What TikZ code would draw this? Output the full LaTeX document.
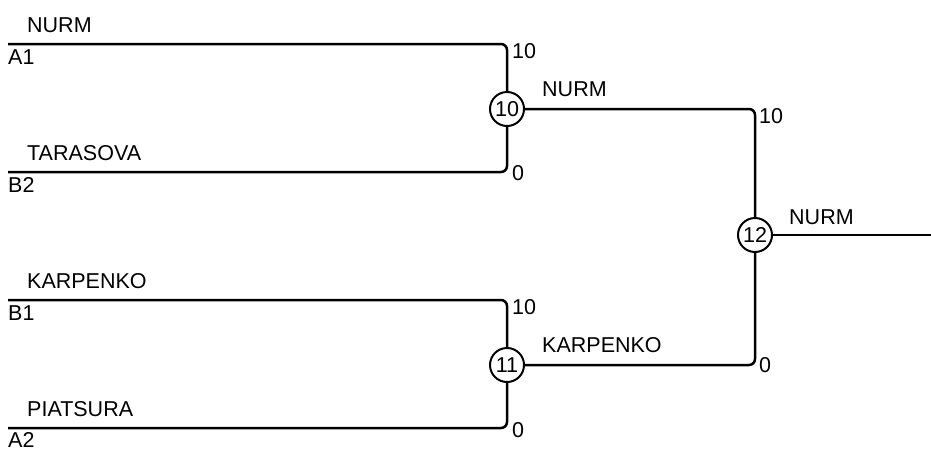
\documentclass[tikz,border=0pt]{standalone}
\usepackage{fontspec}
\setmainfont{Liberation Sans}
\begin{document}
\begin{tikzpicture}[x=1pt,y=-1pt,
  every node/.style={inner sep=0pt,font=\fontsize{21.5}{25}\selectfont},
  txt/.style={anchor=base west},
  game/.style={circle,draw,line width=2pt,minimum size=34pt,fill=white},
  link/.style={line width=2.5pt,rounded corners=6pt}]
\useasboundingbox (0,0) rectangle (931,450);
% games
\node[game] (g10) at (507,109) {10};
\node[game] (g11) at (507,365) {11};
\node[game] (g12) at (755,235) {12};
% line starts
\coordinate (a1) at (8,44);
\coordinate (b2) at (8,172);
\coordinate (b1) at (8,300);
\coordinate (a2) at (8,428);
\coordinate (fin) at (931,235);
% connectors
\draw[link] (a1) -| (g10.north);
\draw[link] (b2) -| (g10.south);
\draw[link] (b1) -| (g11.north);
\draw[link] (a2) -| (g11.south);
\draw[link] (g10.east) -| (g12.north);
\draw[link] (g11.east) -| (g12.south);
\draw[link] (g12.east) -- (fin);
% player names
\node[txt] (nA1) at (27,32) {NURM};
\node[txt] (nB2) at (27,160) {TARASOVA};
\node[txt] (nB1) at (27,288) {KARPENKO};
\node[txt] (nA2) at (27,416) {PIATSURA};
% seeds
\node[txt] (sA1) at (8,64) {A1};
\node[txt] (sB2) at (8,192) {B2};
\node[txt] (sB1) at (8,320) {B1};
\node[txt] (sA2) at (8,447) {A2};
% scores
\node[txt] (p1) at (512,58) {10};
\node[txt] (p2) at (512,180) {0};
\node[txt] (p3) at (512,314) {10};
\node[txt] (p4) at (512,437) {0};
\node[txt] (p5) at (759,123) {10};
\node[txt] (p6) at (759,372) {0};
% winners
\node[txt] (w10) at (542,96) {NURM};
\node[txt] (w11) at (542,352) {KARPENKO};
\node[txt] (w12) at (789,224) {NURM};
\end{tikzpicture}
\end{document}
